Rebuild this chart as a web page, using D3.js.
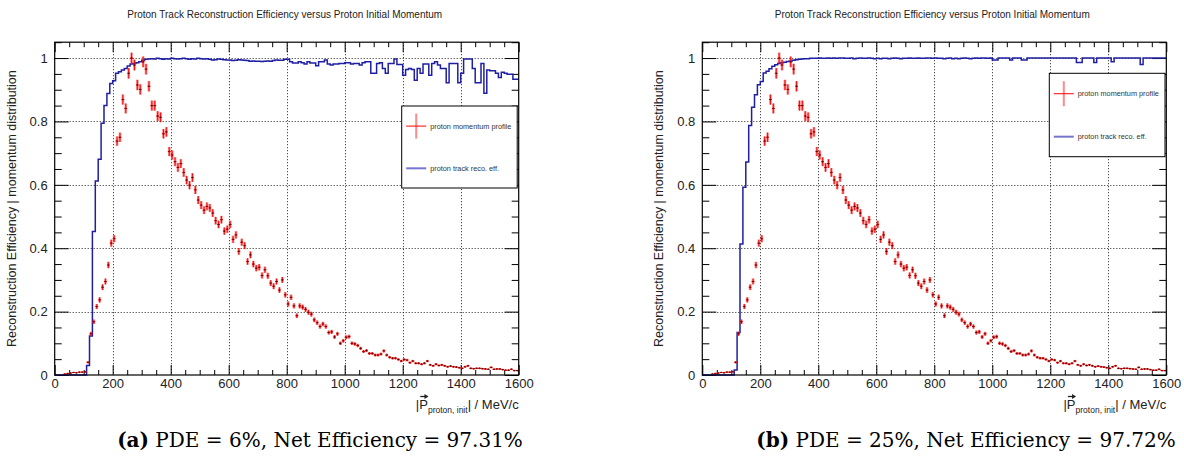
<!DOCTYPE html>
<html><head><meta charset="utf-8">
<script src="https://cdn.jsdelivr.net/npm/d3@7/dist/d3.min.js"></script>
<style>body{margin:0;background:#fff;} svg{display:block;}</style>
</head><body>
<svg id="c" width="1184" height="461"></svg>
<script>
// ---------------- data ----------------
const chartTitle = "Proton Track Reconstruction Efficiency versus Proton Initial Momentum";
const yAxisTitle = "Reconstruction Efficiency | momentum distribution";
const xMajorTicks = [0, 200, 400, 600, 800, 1000, 1200, 1400, 1600];
const yMajorTicks = [0, 0.2, 0.4, 0.6, 0.8, 1];
const xDomain = [0, 1600];
const yDomain = [0, 1.05];
const binWidth = 10; // MeV/c
const binLowEdges = d3.range(0, 1600, binWidth);
const legendLabels = ["proton momentum profile", "proton track reco. eff."];
const captionLetters = ["(a)", "(b)"];
const captionTexts = [" PDE = 6%, Net Efficiency = 97.31%", " PDE = 25%, Net Efficiency = 97.72%"];

// normalised momentum distribution (same generated sample in both panels), one value per 10 MeV/c bin
const momentumProfile = [
 null,null,null,0.003,0.005,0.006,0.008,0.007,0.009,0.009,
 0.010,0.040,0.130,0.168,0.216,0.237,0.277,0.295,0.347,0.416,
 0.430,0.738,0.750,0.869,0.841,0.952,1.000,0.978,0.915,0.901,
 0.988,0.965,0.911,0.850,0.850,0.817,0.813,0.761,0.767,0.705,
 0.694,0.673,0.655,0.667,0.639,0.615,0.599,0.623,0.584,0.552,
 0.536,0.520,0.532,0.527,0.511,0.487,0.475,0.490,0.454,0.460,
 0.475,0.428,0.442,0.390,0.419,0.408,0.358,0.379,0.350,0.337,
 0.340,0.314,0.332,0.313,0.290,0.280,0.295,0.268,0.300,0.253,
 0.224,0.245,0.218,0.187,0.218,0.214,0.207,0.198,0.192,0.174,
 0.165,0.153,0.161,0.153,0.134,0.136,0.120,0.130,0.100,0.108,
 0.119,0.121,0.100,0.098,0.093,0.084,0.074,0.077,0.068,0.068,
 0.063,0.063,0.066,0.076,0.063,0.056,0.053,0.053,0.049,0.044,
 0.049,0.047,0.039,0.044,0.037,0.037,0.034,0.037,0.044,0.032,
 0.029,0.034,0.030,0.032,0.029,0.026,0.028,0.026,0.025,0.023,
 0.021,0.026,0.029,0.021,0.020,0.021,0.021,0.020,0.019,0.018,
 0.024,0.018,0.019,0.019,0.017,0.015,0.015,0.018,0.014,0.014
];

// reconstruction efficiency, PDE = 6%
const efficiencyPDE6 = [
 0,0,0,0,0,0,0,0,0,0,
 0,0.030,0.123,0.453,0.612,0.681,0.794,0.850,0.888,0.920,
 0.928,0.952,0.957,0.962,0.967,0.975,0.981,0.983,0.985,0.988,
 0.993,0.996,0.997,0.998,0.997,0.999,0.998,0.996,0.998,0.997,
 0.999,0.998,0.997,0.998,0.999,0.998,0.996,0.998,0.997,0.999,
 0.998,0.997,0.998,0.996,0.994,0.995,0.997,0.996,0.995,0.994,
 0.994,0.992,0.993,0.995,0.994,0.993,0.992,0.990,0.991,0.990,
 0.990,0.989,0.990,0.991,0.990,0.992,0.994,0.993,0.993,0.996,
 0.996,0.988,0.984,0.984,0.988,0.985,0.981,0.988,0.984,0.984,
 0.976,0.988,0.988,0.994,0.981,0.978,0.981,0.981,0.983,0.983,
 0.985,0.985,0.981,0.983,0.983,0.978,0.985,0.988,0.988,0.952,
 0.952,0.983,0.985,0.967,0.952,0.983,0.983,0.997,0.980,0.980,
 0.946,0.964,0.967,0.964,0.930,0.967,0.952,0.981,0.981,0.946,
 0.983,0.988,0.978,0.967,0.967,0.922,0.983,0.983,0.983,0.922,
 0.952,0.997,0.997,0.997,0.967,0.922,0.922,0.983,0.889,0.962,
 0.960,0.960,0.952,0.939,0.955,0.952,0.949,0.949,0.933,0.933
];

// reconstruction efficiency, PDE = 25%
const efficiencyPDE25 = [
 0,0,0,0,0,0,0,0,0,0,
 0,0.016,0.134,0.413,0.592,0.672,0.787,0.845,0.884,0.916,
 0.926,0.953,0.958,0.966,0.974,0.979,0.983,0.985,0.987,0.989,
 0.991,0.993,0.995,0.996,0.997,0.998,0.998,0.999,0.999,0.999,
 1.000,0.999,0.999,1.000,0.999,1.000,0.999,1.000,1.000,0.999,
 0.999,1.000,0.998,0.999,1.000,0.999,0.999,1.000,0.999,0.998,
 0.999,0.998,0.999,0.999,0.998,0.999,1.000,0.999,0.998,0.999,
 0.999,1.000,0.999,0.999,1.000,0.999,0.999,1.000,1.000,0.999,
 1.000,0.999,0.999,0.998,0.999,1.000,0.998,0.999,0.998,0.999,
 1.000,0.999,0.998,0.999,1.000,0.999,1.000,1.000,0.999,1.000,
 0.994,0.994,1.000,1.000,1.000,1.000,0.994,1.000,1.000,1.000,
 0.994,0.994,1.000,1.000,1.000,1.000,1.000,1.000,1.000,1.000,
 1.000,1.000,1.000,1.000,1.000,1.000,1.000,1.000,1.000,0.986,
 0.986,1.000,1.000,1.000,1.000,0.986,1.000,1.000,1.000,1.000,
 1.000,0.988,1.000,1.000,1.000,1.000,1.000,1.000,1.000,1.000,
 1.000,0.980,1.000,1.000,1.000,1.000,1.000,1.000,1.000,1.000
];

const panels = [
  { eff: efficiencyPDE6, letter: captionLetters[0], text: captionTexts[0] },
  { eff: efficiencyPDE25, letter: captionLetters[1], text: captionTexts[1] }
];

// ---------------- layout ----------------
const svg = d3.select("#c");
const FONT = "'Liberation Sans', Arial, Helvetica, sans-serif";
const plotW = 464, plotTop = 42.2, plotBottom = 375;
const panelLeft = [54.7, 702.3];
const legendBoxes = [ {x:401.7, y:106, w:115.5, h:82}, {x:1049.3, y:73.3, w:115.7, h:83.4} ];
const captionCenters = [320, 966];

panels.forEach((pn, k) => {
  const L = panelLeft[k];
  const x = d3.scaleLinear().domain(xDomain).range([L, L + plotW]);
  const y = d3.scaleLinear().domain(yDomain).range([plotBottom, plotTop]);
  const g = svg.append("g");

  // title
  g.append("text").attr("x", L + plotW/2 - 2).attr("y", 18)
    .attr("text-anchor","middle").attr("font-family",FONT).attr("font-size",10)
    .attr("fill","#222").text(chartTitle);

  // grid
  const grid = g.append("g").attr("stroke","#000").attr("stroke-width",1)
    .attr("stroke-dasharray","1,2").attr("opacity",0.85);
  xMajorTicks.slice(1,-1).forEach(t => grid.append("line")
    .attr("x1", Math.round(x(t))+0.5).attr("x2", Math.round(x(t))+0.5)
    .attr("y1", y(yDomain[1])).attr("y2", y(0)));
  yMajorTicks.slice(1).forEach(t => grid.append("line")
    .attr("x1", x(0)).attr("x2", x(1600))
    .attr("y1", Math.round(y(t))+0.5).attr("y2", Math.round(y(t))+0.5));

  // minor tick values
  const xMinor = d3.range(0, 1600.1, 50).filter(v => v % 200 !== 0);
  const yMinor = d3.range(0, 1.051, 0.05).filter(v => Math.abs(v/0.2 - Math.round(v/0.2)) > 1e-6);

  function styleAxis(sel){
    sel.select(".domain").remove();
    sel.selectAll("line").attr("stroke","#000").attr("stroke-width",1);
    sel.selectAll("text").attr("font-family",FONT).attr("font-size",13).attr("fill","#222");
  }
  // bottom axis
  const xb = g.append("g").attr("transform",`translate(0,${plotBottom})`)
    .call(d3.axisBottom(x).tickValues(xMajorTicks).tickSizeInner(-10).tickSizeOuter(0).tickPadding(4).tickFormat(d3.format("d")));
  styleAxis(xb);
  const xbm = g.append("g").attr("transform",`translate(0,${plotBottom})`)
    .call(d3.axisBottom(x).tickValues(xMinor).tickSizeInner(-5).tickSizeOuter(0).tickFormat(""));
  styleAxis(xbm);
  // top axis
  const xt = g.append("g").attr("transform",`translate(0,${plotTop})`)
    .call(d3.axisTop(x).tickValues(xMajorTicks).tickSizeInner(-10).tickSizeOuter(0).tickFormat(""));
  styleAxis(xt);
  const xtm = g.append("g").attr("transform",`translate(0,${plotTop})`)
    .call(d3.axisTop(x).tickValues(xMinor).tickSizeInner(-5).tickSizeOuter(0).tickFormat(""));
  styleAxis(xtm);
  // left axis
  const yl = g.append("g").attr("transform",`translate(${L},0)`)
    .call(d3.axisLeft(y).tickValues(yMajorTicks).tickSizeInner(-14).tickSizeOuter(0).tickPadding(7)
      .tickFormat(d => d === 0 ? "0" : (d === 1 ? "1" : d3.format(".1f")(d))));
  styleAxis(yl);
  const ylm = g.append("g").attr("transform",`translate(${L},0)`)
    .call(d3.axisLeft(y).tickValues(yMinor).tickSizeInner(-7).tickSizeOuter(0).tickFormat(""));
  styleAxis(ylm);
  // right axis
  const yr = g.append("g").attr("transform",`translate(${L+plotW},0)`)
    .call(d3.axisRight(y).tickValues(yMajorTicks).tickSizeInner(-14).tickSizeOuter(0).tickFormat(""));
  styleAxis(yr);
  const yrm = g.append("g").attr("transform",`translate(${L+plotW},0)`)
    .call(d3.axisRight(y).tickValues(yMinor).tickSizeInner(-7).tickSizeOuter(0).tickFormat(""));
  styleAxis(yrm);

  // efficiency histogram (step line)
  const stepPts = [];
  pn.eff.forEach((v, i) => {
    stepPts.push([binLowEdges[i], v]);
    stepPts.push([binLowEdges[i] + binWidth, v]);
  });
  const line = d3.line().x(d => x(d[0])).y(d => y(d[1]));
  g.append("path").datum(stepPts).attr("d", line)
    .attr("fill","none").attr("stroke","#1f1fa3").attr("stroke-width",1.5)
    .attr("stroke-linejoin","miter");

  // momentum profile points with error bars
  const pts = g.append("g");
  momentumProfile.forEach((v, i) => {
    if (v === null) return;
    const cx = x(binLowEdges[i] + binWidth/2);
    const err = 0.017 * Math.sqrt(v);
    pts.append("line").attr("x1",cx).attr("x2",cx)
      .attr("y1", y(v - err)).attr("y2", y(v + err))
      .attr("stroke","rgba(255,40,40,0.55)").attr("stroke-width",2.6);
    pts.append("line").attr("x1",cx).attr("x2",cx)
      .attr("y1", y(v - err)).attr("y2", y(v + err))
      .attr("stroke","#ee0000").attr("stroke-width",0.9);
    pts.append("line").attr("x1", x(binLowEdges[i])).attr("x2", x(binLowEdges[i]+binWidth))
      .attr("y1", y(v)).attr("y2", y(v))
      .attr("stroke","#d00000").attr("stroke-width",1);
    pts.append("rect").attr("x",cx-0.6).attr("y",y(v)-0.6).attr("width",1.2).attr("height",1.2)
      .attr("fill","#500");
  });

  // frame
  g.append("rect").attr("x", L).attr("y", plotTop).attr("width", plotW).attr("height", plotBottom - plotTop)
    .attr("fill","none").attr("stroke","#000").attr("stroke-width",1.2);

  // axis titles
  g.append("text")
    .attr("transform",`translate(${L-39},${(plotTop+plotBottom)/2}) rotate(-90)`)
    .attr("text-anchor","middle").attr("font-family",FONT).attr("font-size",12.5).attr("fill","#222")
    .text(yAxisTitle);

  const xt2 = g.append("text").attr("x", L + plotW).attr("y", 409)
    .attr("text-anchor","end").attr("font-family",FONT).attr("font-size",13).attr("fill","#222");
  xt2.append("tspan").text("|P");
  xt2.append("tspan").attr("font-size",8.5).attr("dy",4).text("proton, init");
  xt2.append("tspan").attr("dy",-4).text("| / MeV/c");
  // arrow above P
  const node = xt2.node();
  const pStart = node.getStartPositionOfChar(1).x;
  const pEnd = node.getEndPositionOfChar(1).x;
  const ax0 = pStart + 1, ax1 = pEnd - 0.5, ay = 396.5;
  g.append("line").attr("x1",ax0).attr("x2",ax1).attr("y1",ay).attr("y2",ay)
    .attr("stroke","#222").attr("stroke-width",1.3);
  g.append("path").attr("d",`M${ax1+1},${ay} L${ax1-3},${ay-2.5} L${ax1-3},${ay+2.5} Z`).attr("fill","#222");

  // legend
  const lb = legendBoxes[k];
  const lg = g.append("g");
  lg.append("rect").attr("x",lb.x).attr("y",lb.y).attr("width",lb.w).attr("height",lb.h)
    .attr("fill","#fff").attr("stroke","#000").attr("stroke-width",1);
  const e1y = lb.y + lb.h*0.245, e2y = lb.y + lb.h*0.76;
  const mx = lb.x + 14.5;
  lg.append("line").attr("x1",mx).attr("x2",mx).attr("y1",e1y-12.5).attr("y2",e1y+12.5)
    .attr("stroke","rgba(255,60,60,0.6)").attr("stroke-width",2);
  lg.append("line").attr("x1",mx-10).attr("x2",mx+10).attr("y1",e1y).attr("y2",e1y)
    .attr("stroke","#ff0000").attr("stroke-width",1);
  lg.append("line").attr("x1",mx-10).attr("x2",mx+10).attr("y1",e2y).attr("y2",e2y)
    .attr("stroke","rgba(60,60,190,0.7)").attr("stroke-width",2);
  [legendLabels[0], legendLabels[1]].forEach((t, j) => {
    lg.append("text").attr("x", lb.x + 28.5).attr("y", (j===0?e1y:e2y) + 2.6)
      .attr("font-family",FONT).attr("font-size",7.3).attr("fill","#333").text(t);
  });

  // caption
  const cap = g.append("text").attr("x", captionCenters[k]).attr("y", 447)
    .attr("text-anchor","middle").attr("font-family","'DejaVu Serif','Liberation Serif',serif")
    .attr("font-size",20).attr("fill","#000");
  cap.append("tspan").attr("font-weight","bold").text(pn.letter);
  cap.append("tspan").text(pn.text);
});
</script>
</body></html>
